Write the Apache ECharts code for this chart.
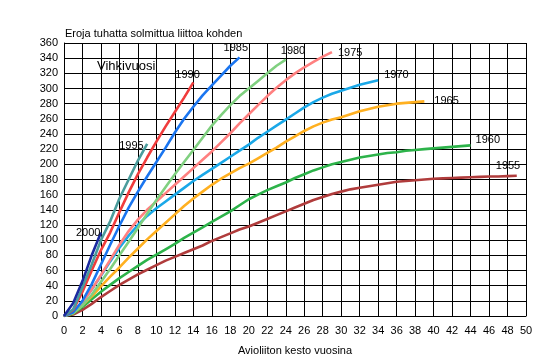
<!DOCTYPE html>
<html>
<head>
<meta charset="utf-8">
<script src="https://cdn.jsdelivr.net/npm/echarts@6/dist/echarts.min.js"></script>
<style>
  html, body { margin: 0; padding: 0; background: #fff; }
  #chart { width: 542px; height: 354px; }
</style>
</head>
<body>
<div id="chart"></div>
<script>
  // avioliiton kesto (vuotta)
  var kesto = [0, 1, 2, 3, 4, 5, 6, 7, 8, 9, 10, 11, 12, 13, 14, 15, 16, 17, 18, 19, 20, 21, 22, 23, 24,
    25, 26, 27, 28, 29, 30, 31, 32, 33, 34, 35, 36, 37, 38, 39, 40, 41, 42, 43, 44, 45, 46, 47, 48, 49];

  var vihkivuodet = ['1955', '1960', '1965', '1970', '1975', '1980', '1985', '1990', '1995', '2000'];

  // eroja tuhatta solmittua liittoa kohden, kumulatiivinen
  var v1955 = [0, 2, 8, 16, 25, 33, 41, 48, 55, 61, 67, 73, 78, 83, 88, 93, 99, 104, 109, 114, 118, 123, 128, 133, 138,
    143, 148, 153, 157, 161, 164, 167, 169, 171, 173, 175, 177, 178, 179, 180, 181, 181.5, 182, 182.5, 183, 183.5, 184, 184, 184.5, 185];
  var v1960 = [0, 3, 12, 22, 32, 41, 50, 58, 66, 74, 81, 88, 95, 103, 110, 117, 124, 131, 138, 146, 154, 160, 166, 171, 176,
    182, 187, 192, 196, 200, 203, 206, 209, 211, 213, 215, 216, 218, 219, 220, 221, 222, 223, 224, 225];
  var v1965 = [0, 4, 14, 26, 39, 52, 64, 77, 89, 101, 112, 123, 134, 145, 155, 164, 173, 181, 188, 195, 201, 208, 215, 222, 230,
    237, 244, 250, 255, 259, 262, 266, 270, 273, 276, 278, 280, 281, 282, 283];
  var v1970 = [0, 5, 18, 35, 53, 72, 90, 106, 120, 132, 142, 151, 160, 169, 178, 186, 194, 202, 210, 218, 226, 235, 243, 251, 259,
    267, 275, 282, 288, 293, 297, 301, 305, 308, 311];
  var v1975 = [0, 5, 18, 35, 54, 74, 94, 112, 127, 140, 151, 162, 173, 184, 195, 206, 217, 229, 241, 254, 266, 278, 290, 301, 311,
    320, 328, 335, 342, 348];
  var v1980 = [0, 4, 14, 28, 45, 62, 80, 98, 116, 135, 153, 170, 187, 203, 219, 235, 251, 265, 278, 290, 300, 310, 320, 330, 338];
  var v1985 = [0, 5, 20, 42, 68, 94, 119, 143, 164, 184, 203, 222, 242, 260, 276, 291, 304, 317, 330, 341];
  var v1990 = [0, 8, 32, 60, 87, 110, 137, 163, 187, 209, 230, 250, 269, 288, 308];
  var v1995 = [0, 9, 38, 68, 100, 125, 155, 180, 205, 227];
  var v2000 = [0, 17, 46, 80, 110];

  var sarjat = [v1955, v1960, v1965, v1970, v1975, v1980, v1985, v1990, v1995, v2000];

  var yTicks = [0, 20, 40, 60, 80, 100, 120, 140, 160, 180, 200, 220, 240, 260, 280, 300, 320, 340, 360];
  var xTicks = [0, 2, 4, 6, 8, 10, 12, 14, 16, 18, 20, 22, 24, 26, 28, 30, 32, 34, 36, 38, 40, 42, 44, 46, 48, 50];

  var varit = ['#b03c3c', '#2db34a', '#ffb020', '#1aa8e8', '#ff8080', '#80d080', '#1a75f0', '#f03c3c', '#4a9c9c', '#1a2aa0'];
  // nimilappujen siirto viivan päästä [x, y]
  var siirrot = [[-21, -10], [5, -5], [10, 0], [6, -5], [6, 1], [-5, -9], [-16, -9], [-18, -7], [-28, 2], [-25, 0]];

  var fontti = '"Liberation Sans", Arial, sans-serif';

  var chart = echarts.init(document.getElementById('chart'));

  var series = vihkivuodet.map(function (vuosi, i) {
    return {
      name: vuosi,
      type: 'line',
      data: sarjat[i].map(function (v, j) { return [kesto[j], v]; }),
      showSymbol: false,
      symbol: 'none',
      smooth: false,
      lineStyle: { color: varit[i], width: 2.6 },
      itemStyle: { color: varit[i] },
      endLabel: {
        show: true,
        formatter: '{a}',
        position: 'right',
        distance: 0,
        align: 'left',
        verticalAlign: 'middle',
        offset: siirrot[i],
        color: '#000',
        fontFamily: fontti,
        fontSize: 11
      },
      emphasis: { disabled: true },
      z: 3
    };
  });

  chart.setOption({
    animation: false,
    backgroundColor: '#fff',
    grid: { left: 64, right: 16, top: 43, bottom: 38, containLabel: false, outerBoundsMode: 'none' },
    graphic: [
      {
        type: 'text', left: 65, top: 28,
        style: { text: 'Eroja tuhatta solmittua liittoa kohden', fill: '#000', font: '11px ' + fontti }
      },
      {
        type: 'text', left: 97, top: 60,
        style: { text: 'Vihkivuosi', fill: '#000', font: '13px ' + fontti }
      }
    ],
    xAxis: {
      type: 'value',
      min: xTicks[0],
      max: xTicks[xTicks.length - 1],
      interval: 2,
      name: 'Avioliiton kesto vuosina',
      nameLocation: 'middle',
      nameGap: 29,
      nameTextStyle: { color: '#000', fontFamily: fontti, fontSize: 11 },
      axisLine: { lineStyle: { color: '#000', width: 1 } },
      axisTick: { show: false },
      axisLabel: { color: '#000', fontFamily: fontti, fontSize: 11, margin: 9 },
      splitLine: { show: true, lineStyle: { color: '#000', width: 1 } }
    },
    yAxis: {
      type: 'value',
      min: yTicks[0],
      max: yTicks[yTicks.length - 1],
      interval: 20,
      axisLine: { show: true, lineStyle: { color: '#000', width: 1 } },
      axisTick: { show: false },
      axisLabel: { color: '#000', fontFamily: fontti, fontSize: 11, margin: 6 },
      splitLine: { show: true, lineStyle: { color: '#000', width: 1 } }
    },
    series: series
  });
</script>
</body>
</html>
